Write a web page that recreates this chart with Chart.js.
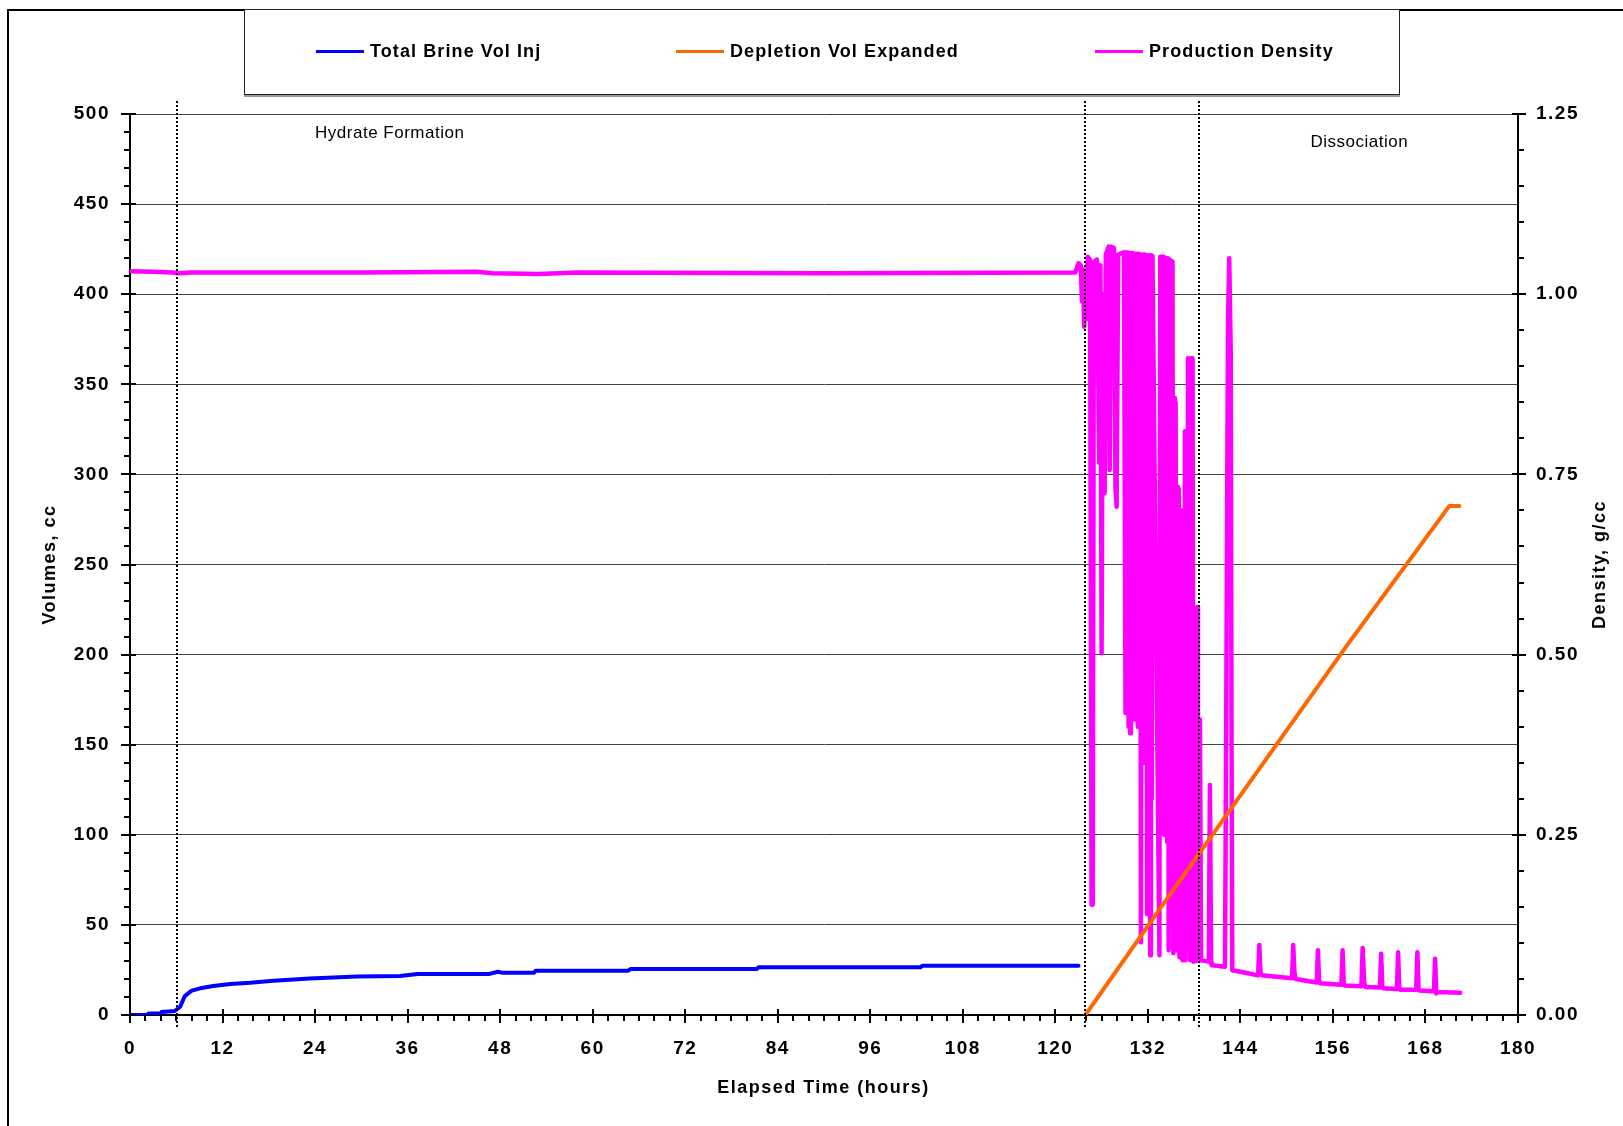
<!DOCTYPE html>
<html>
<head>
<meta charset="utf-8">
<title>Hydrate Formation and Dissociation</title>
<script src="https://cdn.jsdelivr.net/npm/chart.js@4.4.1/dist/chart.umd.min.js"></script>
<style>
    body { margin: 0; background: #fff; font-family: "Liberation Sans", Arial, sans-serif; }
    #wrap { position: relative; width: 1623px; height: 1126px; overflow: hidden; }
    #chart { position: absolute; left: 0; top: 0; }
    .frame { position: absolute; left: 7px; top: 9px; width: 1700px; height: 1200px;
             border-left: 2px solid #000; border-top: 2px solid #000; }
    .legend-box { position: absolute; left: 244px; top: 9px; width: 1154px; height: 84px;
                  border: 1px solid #222; box-shadow: 0 2px 0 #999; background: #fff; }
    .legend-item { position: absolute; top: 41px; height: 20px; display: flex; align-items: center;
                   font-weight: bold; font-size: 18px; letter-spacing: 1.1px; color: #000; white-space: nowrap; }
    .legend-item .swatch { width: 48px; height: 3px; margin-right: 6px; }
</style>
</head>
<body>
<div id="wrap">
    <canvas id="chart" width="1623" height="1126"></canvas>
    <div class="frame"></div>
    <div class="legend-box"></div>
    <div class="legend-item" style="left:316px"><span class="swatch" style="background:#0000ff"></span>Total Brine Vol Inj</div>
    <div class="legend-item" style="left:676px"><span class="swatch" style="background:#ff6600"></span>Depletion Vol Expanded</div>
    <div class="legend-item" style="left:1095px"><span class="swatch" style="background:#ff00ff"></span>Production Density</div>
</div>

<script>
// Total Brine Vol Inj (cc, left axis)
const brineHours = [0, 2.2, 2.4, 4.0, 4.1, 5.8, 6.5, 7.1, 8.0, 9.1, 10.8, 13.0, 15.6, 18.6, 23.3, 29.4, 35.0,
    37.3, 46.5, 47.7, 48.2, 52.4, 52.6, 64.6, 64.9, 81.3, 81.5, 102.5, 102.8, 123.0];
const brineVol = [0, 0, 0.9, 0.9, 1.7, 2.2, 4.6, 10.5, 13.5, 14.8, 16.1, 17.2, 17.9, 19.0, 20.2, 21.3, 21.6,
    22.7, 22.7, 24.0, 23.5, 23.5, 24.6, 24.6, 25.5, 25.5, 26.5, 26.5, 27.4, 27.4];

// Depletion Vol Expanded (cc, left axis)
const depletionHours = [123.9, 134.4, 157.8, 171.1, 172.4];
const depletionVol = [0, 64, 205, 282.5, 282.5];

// Production Density (g/cc, right axis)
const densityHours = [0, 3, 5.5, 6.2, 8, 30, 45, 47, 53, 58, 90, 122.6,
    123.0, 123.3, 123.45, 123.55, 123.75, 123.9, 124.0, 124.2, 124.5, 124.7, 124.85, 125.0,
    125.4, 125.7, 125.85, 126.0, 126.15, 126.4, 126.55, 126.9, 127.05, 127.2, 127.6, 127.8,
    127.95, 128.15, 128.9,
    129.1, 129.2, 129.3, 129.4, 129.5, 129.6, 129.7, 129.8, 129.9, 130.0,
    130.1, 130.2, 130.3, 130.4, 130.5, 130.6, 130.7, 130.8, 130.9, 131.0,
    131.1, 131.2, 131.3, 131.4, 131.5, 131.6, 131.7, 131.8, 131.9, 132.0,
    132.1, 132.2, 132.3, 132.4, 132.5, 132.6, 133.5,
    133.6, 133.7, 133.8, 133.9, 134.0, 134.1, 134.2, 134.3, 134.4, 134.5,
    134.6, 134.7, 134.8, 134.9, 135.0, 135.1, 135.2, 135.3,
    135.4, 135.5, 135.6, 135.7, 135.8, 135.9, 136.0, 136.1, 136.2, 136.3,
    136.4, 136.5, 136.6, 136.7, 136.8, 136.9, 137.0, 137.1, 137.2, 137.3,
    137.4, 137.5, 137.6, 137.7, 137.8, 137.9, 138.0, 138.1, 138.2, 138.3,
    138.4, 138.5, 138.75, 138.9,
    139.9, 140.05, 140.2, 140.3, 142.0, 142.15, 142.3,
    142.4, 142.55, 142.75, 142.85, 142.95, 144.0, 146.3, 146.45, 146.6, 146.75, 150.7, 150.85,
    151.0, 151.15, 153.9, 154.05, 154.2, 154.35, 157.1, 157.25, 157.4, 157.5, 159.7, 159.85,
    160.05, 160.2, 162.1, 162.25, 162.4, 162.5, 164.3, 164.45, 164.6, 164.7, 166.8, 166.95,
    167.1, 167.2, 169.1, 169.25, 169.4, 169.5, 172.5];
const densityVal = [1.032, 1.031, 1.030, 1.029, 1.030, 1.030, 1.031, 1.029, 1.028, 1.030, 1.029, 1.030,
    1.043, 1.040, 0.990, 1.035, 0.955, 1.010, 0.965, 1.052, 1.048, 0.153, 0.153, 1.045,
    1.048, 0.766, 1.040, 0.502, 1.000, 0.724, 1.055, 1.066, 0.756, 1.066, 1.064, 0.730,
    0.705, 1.055, 1.058,
    0.419, 1.058, 0.420, 1.058, 0.400, 1.057, 0.391, 1.057, 0.469, 1.057,
    0.414, 1.056, 0.410, 1.056, 0.414, 1.056, 0.400, 1.056, 0.420, 1.055,
    0.101, 1.055, 0.400, 1.055, 0.350, 1.055, 0.380, 1.054, 0.140, 1.054,
    0.400, 1.054, 0.083, 1.054, 0.300, 1.053, 0.083,
    1.052, 0.300, 1.052, 0.280, 1.052, 0.250, 1.051, 0.280, 1.050, 0.240,
    1.050, 0.090, 1.048, 0.200, 1.046, 0.130, 1.045, 0.086,
    0.856, 0.100, 0.850, 0.090, 0.733, 0.120, 0.730, 0.080, 0.659, 0.100,
    0.700, 0.076, 0.700, 0.090, 0.810, 0.076, 0.800, 0.100, 0.911, 0.090,
    0.900, 0.076, 0.911, 0.080, 0.911, 0.074, 0.450, 0.076, 0.400, 0.075,
    0.566, 0.080, 0.410, 0.076,
    0.074, 0.319, 0.072, 0.069, 0.067, 0.380, 0.756,
    0.964, 1.050, 0.918, 0.380, 0.062, 0.060, 0.055, 0.097, 0.060, 0.055, 0.051, 0.097,
    0.060, 0.050, 0.045, 0.090, 0.048, 0.044, 0.042, 0.090, 0.044, 0.041, 0.040, 0.093,
    0.045, 0.039, 0.038, 0.085, 0.040, 0.037, 0.036, 0.087, 0.038, 0.035, 0.035, 0.087,
    0.037, 0.034, 0.033, 0.078, 0.030, 0.032, 0.031];

// Dotted phase markers (hours)
const phaseLines = [6.05, 123.9, 138.6];

function toPoints(xs, ys) {
    return xs.map(function (x, i) { return { x: x, y: ys[i] }; });
}

const FONT = '"Liberation Sans", Arial, sans-serif';

// tick marks, dotted lines, titles, notes
const decorPlugin = {
    id: 'decor',
    beforeDraw: function (chart) {
        chart.ctx.letterSpacing = '1.5px';
    },
    afterDatasetsDraw: function (chart) {
        const ctx = chart.ctx;
        const area = chart.chartArea;
        const xs = chart.scales.x;
        ctx.save();
        ctx.strokeStyle = '#000';
        ctx.lineWidth = 2;
        ctx.setLineDash([2, 2]);
        phaseLines.forEach(function (h) {
            const px = Math.round(xs.getPixelForValue(h));
            ctx.beginPath();
            ctx.moveTo(px, area.top - 13);
            ctx.lineTo(px, area.bottom + 12);
            ctx.stroke();
        });
        ctx.restore();
    },
    afterDraw: function (chart) {
        const ctx = chart.ctx;
        const area = chart.chartArea;
        const xs = chart.scales.x;
        const yl = chart.scales.y;
        const yr = chart.scales.y2;
        ctx.save();
        ctx.strokeStyle = '#000';
        ctx.lineWidth = 2;

        function seg(x1, y1, x2, y2) {
            ctx.beginPath();
            ctx.moveTo(x1, y1);
            ctx.lineTo(x2, y2);
            ctx.stroke();
        }

        for (let v = 0; v <= 500; v += 10) {
            const py = Math.round(yl.getPixelForValue(v));
            if (v % 50 === 0) seg(area.left - 9, py, area.left + 6, py);
            else seg(area.left - 6, py, area.left, py);
        }
        for (let i = 0; i <= 25; i++) {
            const py = Math.round(yr.getPixelForValue(i * 0.05));
            if (i % 5 === 0) seg(area.right - 6, py, area.right + 8, py);
            else seg(area.right, py, area.right + 6, py);
        }
        for (let h = 0; h <= 180; h += 2) {
            const px = Math.round(xs.getPixelForValue(h));
            if (h % 12 === 0) seg(px, area.bottom - 6, px, area.bottom + 8);
            else seg(px, area.bottom, px, area.bottom + 6);
        }

        ctx.fillStyle = '#000';
        ctx.textBaseline = 'middle';

        ctx.font = 'bold 18px ' + FONT;
        ctx.textAlign = 'center';
        ctx.fillText('Elapsed Time (hours)', (area.left + area.right) / 2 - 0.5, 1088);

        ctx.save();
        ctx.translate(50, (area.top + area.bottom) / 2);
        ctx.rotate(-Math.PI / 2);
        ctx.fillText('Volumes, cc', 0, 0);
        ctx.restore();

        ctx.save();
        ctx.translate(1600, (area.top + area.bottom) / 2);
        ctx.rotate(-Math.PI / 2);
        ctx.fillText('Density, g/cc', 0, 0);
        ctx.restore();

        ctx.letterSpacing = '0.5px';
        ctx.font = '17px ' + FONT;
        ctx.textAlign = 'left';
        ctx.fillText('Hydrate Formation', xs.getPixelForValue(24), yl.getPixelForValue(489.5));
        ctx.fillText('Dissociation', xs.getPixelForValue(153.1), yl.getPixelForValue(484.5));
        ctx.restore();
        ctx.letterSpacing = '0px';
    }
};

const tickFont = { family: FONT, size: 19, weight: 'bold' };

const chartEl = document.getElementById('chart');

const config = {
    type: 'line',
    data: {
        datasets: [
            {
                label: 'Total Brine Vol Inj',
                data: toPoints(brineHours, brineVol),
                borderColor: '#0000ff',
                borderWidth: 4,
                yAxisID: 'y',
                order: 1
            },
            {
                label: 'Depletion Vol Expanded',
                data: toPoints(depletionHours, depletionVol),
                borderColor: '#ff6600',
                borderWidth: 4,
                yAxisID: 'y',
                order: 0
            },
            {
                label: 'Production Density',
                data: toPoints(densityHours, densityVal),
                borderColor: '#ff00ff',
                borderWidth: 4.5,
                yAxisID: 'y2',
                order: 2
            }
        ]
    },
    options: {
        responsive: false,
        devicePixelRatio: 1,
        animation: false,
        layout: { padding: { top: 114, left: 0, right: 0, bottom: 0 } },
        elements: {
            point: { radius: 0 },
            line: { tension: 0, borderJoinStyle: 'round', borderCapStyle: 'round', fill: false }
        },
        plugins: {
            legend: { display: false },
            tooltip: { enabled: false }
        },
        scales: {
            x: {
                type: 'linear',
                position: 'bottom',
                min: 0,
                max: 180,
                grid: { display: false, drawTicks: false },
                border: { display: true, color: '#000', width: 2 },
                ticks: { stepSize: 12, padding: 22, color: '#000', font: tickFont, maxRotation: 0, autoSkip: false },
                afterFit: function (scale) { scale.height = 111; }
            },
            y: {
                type: 'linear',
                position: 'left',
                min: 0,
                max: 500,
                grid: { color: '#444', lineWidth: 1, drawTicks: false },
                border: { display: true, color: '#000', width: 2 },
                ticks: { stepSize: 50, padding: 20, color: '#000', font: tickFont },
                afterFit: function (scale) { scale.width = 130; }
            },
            y2: {
                type: 'linear',
                position: 'right',
                min: 0,
                max: 1.25,
                grid: { display: false, drawTicks: false },
                border: { display: true, color: '#000', width: 2 },
                ticks: {
                    stepSize: 0.25, padding: 18, color: '#000', font: tickFont,
                    callback: function (v) { return Number(v).toFixed(2); }
                },
                afterFit: function (scale) { scale.width = 105; }
            }
        }
    },
    plugins: [decorPlugin]
};

const chart = new Chart(chartEl, config);
</script>
</body>
</html>
